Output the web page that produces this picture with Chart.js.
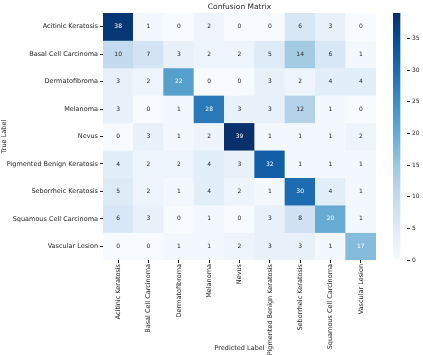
<!DOCTYPE html>
<html><head><meta charset="utf-8">
<script src="https://cdn.jsdelivr.net/npm/chart.js@4.4.1/dist/chart.umd.min.js"></script>
<style>
html,body{margin:0;padding:0;background:#fff;}
#wrap{position:relative;width:423px;height:355px;}
#main{position:absolute;left:0;top:0;}
#cbar{position:absolute;left:380px;top:0;}
</style></head>
<body><div id="wrap"><canvas id="main" width="423" height="355"></canvas><canvas id="cbar" width="43" height="355"></canvas></div>
<script>
const classLabels = ["Acitinic Keratosis","Basal Cell Carcinoma","Dermatofibroma","Melanoma","Nevus","Pigmented Benign Keratosis","Seborrheic Keratosis","Squamous Cell Carcinoma","Vascular Lesion"];
const rowAK  = [38,1,0,2,0,0,6,3,0];
const rowBCC = [10,7,3,2,2,5,14,6,1];
const rowDF  = [3,2,22,0,0,3,2,4,4];
const rowMel = [3,0,1,28,3,3,12,1,0];
const rowNev = [0,3,1,2,39,1,1,1,2];
const rowPBK = [4,2,2,4,3,32,1,1,1];
const rowSK  = [5,2,1,4,2,1,30,4,1];
const rowSCC = [6,3,0,1,0,3,8,20,1];
const rowVL  = [0,0,1,1,2,3,3,1,17];
const counts = [rowAK,rowBCC,rowDF,rowMel,rowNev,rowPBK,rowSK,rowSCC,rowVL];
const colorbarTicks = [0,5,10,15,20,25,30,35];
const vmin = 0, vmax = 39;

const FONT = "'DejaVu Sans', sans-serif";
const TXT = '#262626';
const blues = ['#f7fbff','#deebf7','#c6dbef','#9ecae1','#6baed6','#4292c6','#2171b5','#08519c','#08306b'];
function hex(h){return [1,3,5].map(i=>parseInt(h.substr(i,2),16));}
function blue(v){
  let t=(v-vmin)/(vmax-vmin); t=Math.max(0,Math.min(1,t));
  const p=t*(blues.length-1); const i=Math.min(Math.floor(p),blues.length-2); const f=p-i;
  const a=hex(blues[i]), b=hex(blues[i+1]);
  return 'rgb('+a.map((c,k)=>Math.round(c+(b[k]-c)*f)).join(',')+')';
}

const datasets = counts.map((row,i)=>({
  label: classLabels[i],
  data: row.map(()=>1),
  values: row,
  backgroundColor: row.map(v=>blue(v)),
  borderWidth: 0,
  barPercentage: 1,
  categoryPercentage: 1,
  stack: 's'
}));

const annot = {
  id:'annot',
  afterDatasetsDraw(chart){
    const ctx=chart.ctx; ctx.save();
    ctx.font='6px '+FONT; ctx.textAlign='center'; ctx.textBaseline='middle';
    chart.data.datasets.forEach((ds,i)=>{
      const meta=chart.getDatasetMeta(i);
      meta.data.forEach((el,j)=>{
        const v=ds.values[j];
        ctx.fillStyle = v>=16 ? '#ffffff' : TXT;
        ctx.fillText(String(v), el.x, (el.y+el.base)/2);
      });
    });
    ctx.font='7.5px '+FONT; ctx.fillStyle=TXT; ctx.textBaseline='middle';
    const ca=chart.chartArea;
    ctx.fillText('Confusion Matrix',(ca.left+ca.right)/2,7);
    ctx.restore();
  }
};

new Chart(document.getElementById('main'),{
  type:'bar',
  data:{labels:classLabels,datasets},
  options:{
    responsive:false,animation:false,
    layout:{padding:{top:13,right:47,left:0,bottom:0}},
    plugins:{legend:{display:false},tooltip:{enabled:false},title:{display:false}},
    scales:{
      x:{type:'category',stacked:true,offset:true,
        grid:{offset:false,drawOnChartArea:false,drawTicks:true,tickLength:3,tickColor:TXT},
        border:{display:false},
        ticks:{autoSkip:false,maxRotation:90,minRotation:90,color:TXT,font:{family:FONT,size:6.5},padding:1},
        title:{display:true,text:'Predicted Label',color:TXT,font:{family:FONT,size:6.5},padding:{top:0,bottom:3}},
        afterFit(s){s.height=95;}
      },
      y:{type:'linear',stacked:true,min:0,max:9,reverse:true,
        afterBuildTicks(s){s.ticks=classLabels.map((l,i)=>({value:i+0.5}));},
        grid:{drawOnChartArea:false,drawTicks:true,tickLength:3,tickColor:TXT},
        border:{display:false},
        ticks:{autoSkip:false,color:TXT,font:{family:FONT,size:6.5},padding:2,
          callback:(v,idx)=>classLabels[idx]},
        title:{display:true,text:'True Label',color:TXT,font:{family:FONT,size:6.5},padding:{top:0,bottom:0}},
        afterFit(s){s.width=103;}
      }
    }
  },
  plugins:[annot]
});

new Chart(document.getElementById('cbar'),{
  type:'bar',
  data:{labels:[''],datasets:[{
    data:[[vmin,vmax]],
    borderWidth:0,barPercentage:1,categoryPercentage:1,
    backgroundColor(c){
      const ca=c.chart.chartArea; if(!ca) return blues[4];
      const g=c.chart.ctx.createLinearGradient(0,ca.bottom,0,ca.top);
      blues.forEach((b,i)=>g.addColorStop(i/(blues.length-1),b));
      return g;
    }
  }]},
  options:{
    responsive:false,animation:false,
    layout:{padding:{top:13,left:13,right:0,bottom:95}},
    plugins:{legend:{display:false},tooltip:{enabled:false}},
    scales:{
      x:{display:false,offset:false},
      y:{position:'right',min:vmin,max:vmax,
        afterBuildTicks(s){s.ticks=colorbarTicks.map(v=>({value:v}));},
        grid:{drawOnChartArea:false,drawTicks:true,tickLength:3,tickColor:TXT},
        border:{display:false},
        ticks:{color:TXT,font:{family:FONT,size:6},padding:2},
        afterFit(s){s.width=16;}
      }
    }
  }
});
</script></body></html>
